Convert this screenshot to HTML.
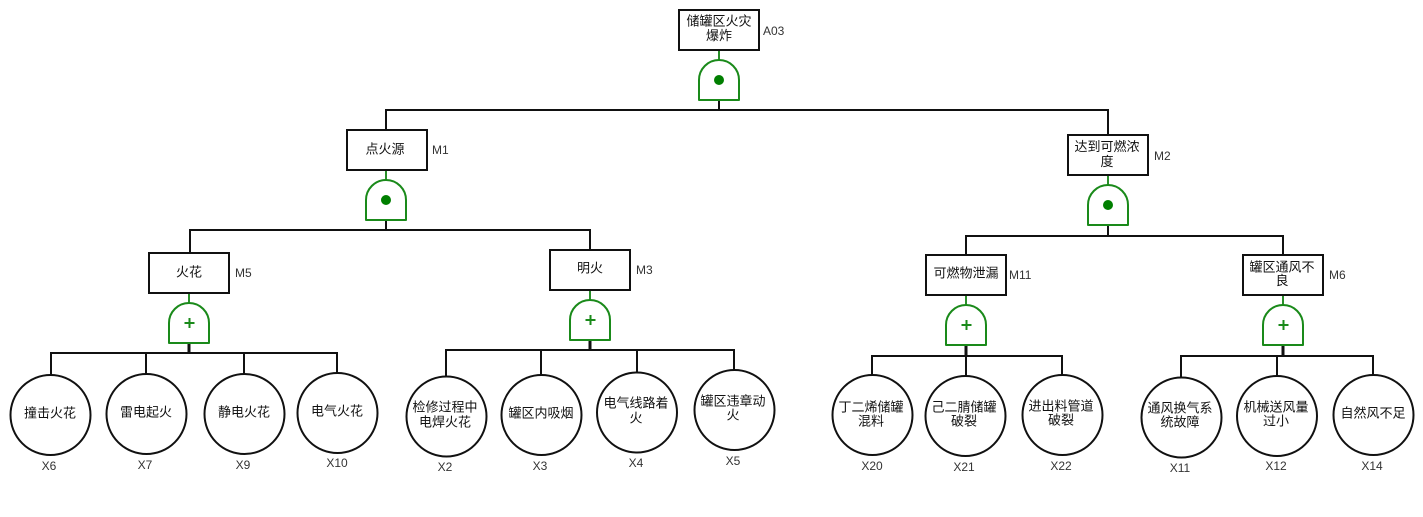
<!DOCTYPE html>
<html>
<head>
<meta charset="utf-8">
<style>
html,body{margin:0;padding:0;background:#fff;width:1423px;height:517px;overflow:hidden}
svg{display:block}
.t{font-family:"Liberation Sans","Noto Sans CJK SC",sans-serif;font-size:13px;fill:#111;text-anchor:middle}
.l{font-family:"Liberation Sans",sans-serif;font-size:12px;fill:#333}
.c{text-anchor:middle}
.k{fill:none;stroke:#111;stroke-width:2}
.k3{fill:none;stroke:#111;stroke-width:3}
.b{fill:#fff;stroke:#111;stroke-width:2}
.g{fill:#fff;stroke:#1a8a1a;stroke-width:2;stroke-linejoin:round}
.s{fill:none;stroke:#2a8f2a;stroke-width:2}
.d{fill:#007f00}
.p{fill:none;stroke:#1a8a1a;stroke-width:2}
</style>
</head>
<body>
<svg width="1423" height="517" viewBox="0 0 1423 517" xmlns="http://www.w3.org/2000/svg">
<!-- black connectors -->
<path class="k" d="M719 100V110M386 130V110H1108V135"/>
<path class="k" d="M386 220V230M190 253V230H590V250"/>
<path class="k" d="M1108 225V236M966 255V236H1283V255"/>
<path class="k3" d="M189 343V353M590 340V350M966 345V356M1283 345V356"/>
<path class="k" d="M51 375V353H337V373M146 353V374M244 353V374"/>
<path class="k" d="M446 376V350H734V370M541 350V375M637 350V372"/>
<path class="k" d="M872 375V356H1062V375M966 356V376"/>
<path class="k" d="M1181 377V356H1373V375M1277 356V376"/>
<!-- green stems -->
<path class="s" d="M719 50V60M386 170V180M1108 175V185M189 293V303M590 290V300M966 295V305M1283 295V305"/>
<!-- boxes -->
<rect class="b" x="679" y="10" width="80" height="40"/>
<rect class="b" x="347" y="130" width="80" height="40"/>
<rect class="b" x="1068" y="135" width="80" height="40"/>
<rect class="b" x="149" y="253" width="80" height="40"/>
<rect class="b" x="550" y="250" width="80" height="40"/>
<rect class="b" x="926" y="255" width="80" height="40"/>
<rect class="b" x="1243" y="255" width="80" height="40"/>
<!-- gates -->
<path class="g" d="M699 100V80A20 20 0 0 1 739 80V100Z"/><circle class="d" cx="719" cy="80" r="5"/>
<path class="g" d="M366 220V200A20 20 0 0 1 406 200V220Z"/><circle class="d" cx="386" cy="200" r="5"/>
<path class="g" d="M1088 225V205A20 20 0 0 1 1128 205V225Z"/><circle class="d" cx="1108" cy="205" r="5"/>
<path class="g" d="M169 343V323A20 20 0 0 1 209 323V343Z"/><path class="p" d="M184.500 323H194.500M189.500 318V328"/>
<path class="g" d="M570 340V320A20 20 0 0 1 610 320V340Z"/><path class="p" d="M585.500 320H595.500M590.500 315V325"/>
<path class="g" d="M946 345V325A20 20 0 0 1 986 325V345Z"/><path class="p" d="M961.500 325H971.500M966.500 320V330"/>
<path class="g" d="M1263 345V325A20 20 0 0 1 1303 325V345Z"/><path class="p" d="M1278.500 325H1288.500M1283.500 320V330"/>
<!-- circles -->
<circle class="b" cx="50.500" cy="415" r="40"/>
<circle class="b" cx="146.500" cy="414" r="40"/>
<circle class="b" cx="244.500" cy="414" r="40"/>
<circle class="b" cx="337.500" cy="413" r="40"/>
<circle class="b" cx="446.500" cy="416.500" r="40"/>
<circle class="b" cx="541.500" cy="415" r="40"/>
<circle class="b" cx="637" cy="412.500" r="40"/>
<circle class="b" cx="734.500" cy="410" r="40"/>
<circle class="b" cx="872.500" cy="415" r="40"/>
<circle class="b" cx="965.500" cy="416" r="40"/>
<circle class="b" cx="1062.500" cy="415" r="40"/>
<circle class="b" cx="1181.500" cy="417.500" r="40"/>
<circle class="b" cx="1277" cy="416" r="40"/>
<circle class="b" cx="1373.500" cy="415" r="40"/>
<!-- node text -->
<text class="t" x="719" y="25.500">储罐区火灾</text>
<text class="t" x="719" y="40">爆炸</text>
<text class="t" x="385" y="153.500">点火源</text>
<text class="t" x="1107" y="151">达到可燃浓</text>
<text class="t" x="1107" y="166">度</text>
<text class="t" x="189" y="276.500">火花</text>
<text class="t" x="590" y="272.500">明火</text>
<text class="t" x="966" y="277.500">可燃物泄漏</text>
<text class="t" x="1282" y="271.500">罐区通风不</text>
<text class="t" x="1282" y="285">良</text>
<text class="t" x="50" y="417.500">撞击火花</text>
<text class="t" x="146" y="416.500">雷电起火</text>
<text class="t" x="244" y="416.500">静电火花</text>
<text class="t" x="337" y="415.500">电气火花</text>
<text class="t" x="445" y="411.500">检修过程中</text>
<text class="t" x="445" y="426.500">电焊火花</text>
<text class="t" x="541" y="417.500">罐区内吸烟</text>
<text class="t" x="636" y="407.500">电气线路着</text>
<text class="t" x="636" y="422.500">火</text>
<text class="t" x="733" y="405.500">罐区违章动</text>
<text class="t" x="733" y="419.500">火</text>
<text class="t" x="871" y="411.500">丁二烯储罐</text>
<text class="t" x="871" y="425.500">混料</text>
<text class="t" x="964" y="411.500">己二腈储罐</text>
<text class="t" x="964" y="425.500">破裂</text>
<text class="t" x="1061" y="410.500">进出料管道</text>
<text class="t" x="1061" y="424.500">破裂</text>
<text class="t" x="1180" y="412.500">通风换气系</text>
<text class="t" x="1180" y="426.500">统故障</text>
<text class="t" x="1276" y="411.500">机械送风量</text>
<text class="t" x="1276" y="425.500">过小</text>
<text class="t" x="1373" y="417.500">自然风不足</text>
<!-- labels -->
<text class="l" x="763" y="35">A03</text>
<text class="l" x="432" y="154">M1</text>
<text class="l" x="1154" y="160">M2</text>
<text class="l" x="235" y="277">M5</text>
<text class="l" x="636" y="274">M3</text>
<text class="l" x="1009" y="279">M11</text>
<text class="l" x="1329" y="279">M6</text>
<text class="l c" x="49" y="470">X6</text>
<text class="l c" x="145" y="469">X7</text>
<text class="l c" x="243" y="469">X9</text>
<text class="l c" x="337" y="467">X10</text>
<text class="l c" x="445" y="471">X2</text>
<text class="l c" x="540" y="470">X3</text>
<text class="l c" x="636" y="467">X4</text>
<text class="l c" x="733" y="465">X5</text>
<text class="l c" x="872" y="470">X20</text>
<text class="l c" x="964" y="471">X21</text>
<text class="l c" x="1061" y="470">X22</text>
<text class="l c" x="1180" y="472">X11</text>
<text class="l c" x="1276" y="470">X12</text>
<text class="l c" x="1372" y="470">X14</text>
</svg>
</body>
</html>
